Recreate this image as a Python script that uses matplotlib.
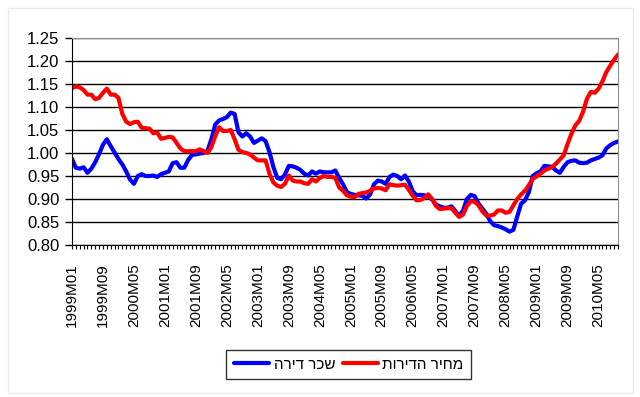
import matplotlib
matplotlib.use("Agg")
import matplotlib.pyplot as plt
import numpy as np

plt.rcParams["font.family"] = ["Liberation Sans", "DejaVu Sans"]

# monthly index 1999M01 .. 2010M10
months = [f"{1999 + k // 12}M{k % 12 + 1:02d}" for k in range(142)]

rent = [
    0.987, 0.968, 0.966, 0.969, 0.957, 0.966, 0.980, 0.998, 1.018, 1.030,
    1.015, 1.001, 0.987, 0.975, 0.960, 0.942, 0.933, 0.950, 0.954, 0.950,
    0.950, 0.951, 0.948, 0.954, 0.957, 0.960, 0.978, 0.980, 0.968, 0.968,
    0.985, 0.996, 0.997, 0.999, 1.000, 1.005, 1.030, 1.062, 1.071, 1.074,
    1.078, 1.088, 1.085, 1.045, 1.036, 1.043, 1.036, 1.022, 1.027, 1.032,
    1.026, 1.002, 0.970, 0.946, 0.943, 0.953, 0.972, 0.971, 0.968, 0.963,
    0.955, 0.951, 0.960, 0.955, 0.960, 0.958, 0.958, 0.958, 0.962, 0.946,
    0.932, 0.915, 0.911, 0.909, 0.908, 0.907, 0.901, 0.910, 0.932, 0.940,
    0.938, 0.933, 0.948, 0.953, 0.950, 0.943, 0.951, 0.938, 0.917, 0.908,
    0.909, 0.908, 0.906, 0.899, 0.888, 0.884, 0.881, 0.881, 0.884, 0.874,
    0.863, 0.875, 0.900, 0.909, 0.906, 0.890, 0.879, 0.868, 0.852, 0.843,
    0.841, 0.838, 0.834, 0.829, 0.833, 0.862, 0.890, 0.897, 0.915, 0.950,
    0.956, 0.960, 0.972, 0.971, 0.970, 0.962, 0.957, 0.970, 0.980, 0.983,
    0.984, 0.979, 0.978, 0.979, 0.984, 0.987, 0.990, 0.995, 1.010, 1.017,
    1.022, 1.025,
]

prices = [
    1.141, 1.145, 1.143, 1.137, 1.127, 1.127, 1.117, 1.120, 1.131, 1.140,
    1.127, 1.127, 1.120, 1.085, 1.068, 1.063, 1.067, 1.068, 1.055, 1.054,
    1.053, 1.043, 1.045, 1.031, 1.033, 1.035, 1.034, 1.022, 1.010, 1.004,
    1.004, 1.004, 1.004, 1.008, 1.004, 1.000, 1.013, 1.037, 1.056, 1.048,
    1.048, 1.050, 1.030, 1.007, 1.002, 1.000, 0.997, 0.990, 0.984, 0.984,
    0.984, 0.955, 0.936, 0.929, 0.926, 0.933, 0.951, 0.940, 0.938, 0.938,
    0.934, 0.933, 0.943, 0.938, 0.946, 0.950, 0.948, 0.948, 0.946, 0.925,
    0.918, 0.908, 0.905, 0.904, 0.911, 0.913, 0.914, 0.918, 0.923, 0.924,
    0.923, 0.919, 0.932, 0.930, 0.929, 0.930, 0.931, 0.920, 0.907, 0.897,
    0.898, 0.902, 0.910, 0.900, 0.885, 0.878, 0.879, 0.880, 0.880, 0.870,
    0.861, 0.866, 0.885, 0.895, 0.894, 0.886, 0.873, 0.864, 0.864, 0.866,
    0.875, 0.875, 0.870, 0.872, 0.886, 0.900, 0.910, 0.918, 0.930, 0.944,
    0.949, 0.955, 0.962, 0.966, 0.969, 0.977, 0.986, 0.995, 1.020, 1.042,
    1.060, 1.070, 1.090, 1.118, 1.133, 1.131, 1.140, 1.156, 1.176, 1.190,
    1.203, 1.214,
]

# Hebrew labels (reversed for left-to-right rendering)
label_rent = "שכר דירה"[::-1]
label_prices = "מחיר הדירות"[::-1]

fig = plt.figure(figsize=(6.4, 3.97), dpi=100)

# faint chart-area border like the Excel original
fig.patches.append(plt.Rectangle((8 / 640, 4 / 397), 625 / 640, 385 / 397,
                                 transform=fig.transFigure, fill=False,
                                 edgecolor="#ececec", lw=1))

ax = fig.add_axes([0.1125, 0.383, 0.853, 0.521])

x = np.arange(len(months))
ax.plot(x, rent, color="#0000ff", lw=3, label=label_rent, solid_capstyle="round")
ax.plot(x, prices, color="#ff0000", lw=3, label=label_prices, solid_capstyle="round")

ax.set_xlim(0, len(months) - 1)
ax.set_ylim(0.80, 1.25)
yt = np.arange(0.80, 1.2501, 0.05)
ax.set_yticks(yt)
ax.set_yticklabels([f"{v:.2f}" for v in yt], fontsize=12)
ax.yaxis.grid(True, color="black", lw=1)
ax.set_axisbelow(True)

ax.set_xticks(x, minor=True)
ax.set_xticks(x[::8])
ax.set_xticklabels(months[::8], rotation=90, fontsize=11)
ax.tick_params(axis="x", which="both", length=3, width=0.8, direction="out", pad=10)
ax.tick_params(axis="y", length=5, width=1, pad=4)

for s in ["top", "right"]:
    ax.spines[s].set_color("#909090")
for s in ["left", "bottom"]:
    ax.spines[s].set_color("black")

leg = fig.legend(loc="center", bbox_to_anchor=(0.545, 0.081), ncol=2, fontsize=11,
                 frameon=True, fancybox=False, edgecolor="black", handlelength=2.3,
                 columnspacing=0.5, handletextpad=0.3, borderpad=0.5)
leg.get_frame().set_linewidth(1)

fig.savefig("out.png", dpi=100)
